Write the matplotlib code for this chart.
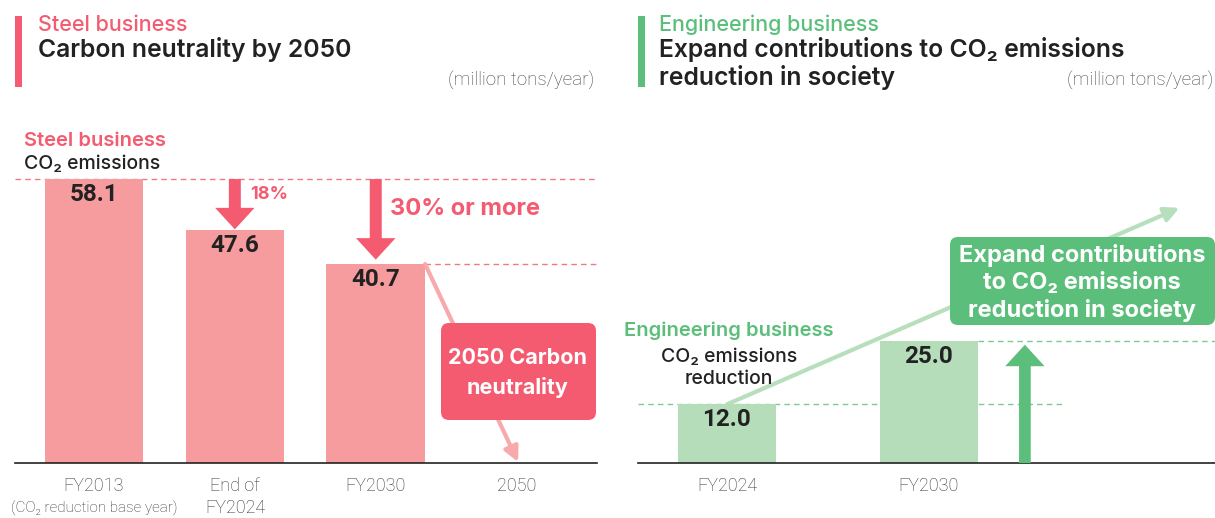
import matplotlib
matplotlib.use('Agg')
import matplotlib.pyplot as plt
from matplotlib.patches import FancyBboxPatch, FancyArrow, Rectangle

W, H = 1215, 518

# data
steel_labels = ['FY2013', 'End of\nFY2024', 'FY2030', '2050']
steel_values = [58.1, 47.6, 40.7]
steel_cuts = ['18%', '30% or more']
eng_labels = ['FY2024', 'FY2030']
eng_values = [12.0, 25.0]

PINK = '#F45B70'
PINK_BAR = '#F79C9E'
PINK_LIGHT = '#F7A9AC'
GREEN = '#5BBF7B'
GREEN_BAR = '#B5DDB9'
GREEN_LIGHT = '#B8DFBC'
DARK = '#222222'
GREY = '#333333'

TXT = ['Inter', 'DejaVu Sans']
NUM = ['Roboto', 'DejaVu Sans']
PX_PER_UNIT = 4.888

fig = plt.figure(figsize=(W / 100, H / 100), dpi=100)


def px_axes(l, r, bottom, top):
    return fig.add_axes([l / W, 1 - bottom / H, (r - l) / W, (bottom - top) / H])


def style_axes(ax):
    for s in ['top', 'left', 'right']:
        ax.spines[s].set_visible(False)
    ax.spines['bottom'].set_color('#222222')
    ax.spines['bottom'].set_linewidth(1.2)
    ax.set_yticks([])
    ax.tick_params(axis='x', length=0, pad=10)
    ax.set_ylim(0, 363 / PX_PER_UNIT)


# ---------- steel (left) ----------
ax1 = px_axes(15, 597, 463, 100)
style_axes(ax1)
ax1.set_xlim(-0.56, 3.57)
x1 = list(range(len(steel_values)))
ax1.bar(x1, steel_values, width=0.7, color=PINK_BAR, zorder=2)
ax1.set_xticks(range(len(steel_labels)))
ax1.set_xticklabels(steel_labels, family=NUM, fontweight='light', fontsize=13,
                    color=GREY, linespacing=1.3)
ax1.text(0, -0.125, '(CO\u2082 reduction base year)', transform=ax1.get_xaxis_transform(),
         ha='center', va='center', fontsize=11, family=NUM, fontweight='light', color=GREY)
for xi, v in zip(x1, steel_values):
    ax1.text(xi, v - 3.2, f'{v:.1f}', ha='center', va='center', fontsize=17.5,
             fontweight='bold', family=NUM, color=DARK, zorder=4)

ax1.plot([-0.56, 3.57], [steel_values[0]] * 2, ls=(0, (4, 3)), lw=1, color='#F07885', zorder=1)
ax1.plot([2.35, 3.57], [steel_values[2]] * 2, ls=(0, (4, 3)), lw=1, color='#F07885', zorder=1)

# reduction arrows
for xi, v, gap in [(1, steel_values[1], 0.2), (2, steel_values[2], 0.9)]:
    length = steel_values[0] - v - gap
    ax1.add_patch(FancyArrow(xi, steel_values[0], 0, -length, width=0.085,
                             head_width=0.28, head_length=4.4, length_includes_head=True,
                             color=PINK, lw=0, zorder=3))
ax1.text(1.11, 55.0, steel_cuts[0], ha='left', va='center', fontsize=13, fontweight='bold',
         family=TXT, color=PINK)
ax1.text(2.1, 52.0, steel_cuts[1], ha='left', va='center', fontsize=17, fontweight='bold',
         family=TXT, color=PINK)

# toward 2050
ax1.annotate('', xy=(3.01, 0.2), xytext=(2.35, steel_values[2]),
             arrowprops=dict(arrowstyle='-|>', color=PINK_LIGHT, lw=3, mutation_scale=22,
                             shrinkA=0, shrinkB=0), zorder=2)

# ---------- engineering (right) ----------
ax2 = px_axes(638, 1215, 463, 100)
style_axes(ax2)
ax2.set_xlim(-0.44, 2.416)
x2 = list(range(len(eng_values)))
ax2.bar(x2, eng_values, width=0.485, color=GREEN_BAR, zorder=2)
ax2.set_xticks(x2)
ax2.set_xticklabels(eng_labels, family=NUM, fontweight='light', fontsize=13, color=GREY)
for xi, v in zip(x2, eng_values):
    ax2.text(xi, v - 3.2, f'{v:.1f}', ha='center', va='center', fontsize=17.5,
             fontweight='bold', family=NUM, color=DARK, zorder=4)
ax2.plot([-0.44, 1.66], [eng_values[0]] * 2, ls=(0, (4, 3)), lw=1, color='#7CCB92', zorder=1)
ax2.plot([1.2425, 2.416], [eng_values[1]] * 2, ls=(0, (4, 3)), lw=1, color='#7CCB92', zorder=1)
ax2.add_patch(FancyArrow(1.475, 0, 0, eng_values[1] - 0.8, width=0.058, head_width=0.195,
                         head_length=4.4, length_includes_head=True, color=GREEN, lw=0,
                         zorder=3))
ax2.annotate('', xy=(2.24, 52.2), xytext=(0, eng_values[0]),
             arrowprops=dict(arrowstyle='-|>', color=GREEN_LIGHT, lw=3, mutation_scale=22,
                             shrinkA=0, shrinkB=0), zorder=1)

# ---------- overlay for headings / boxes (pixel coords) ----------
ov = fig.add_axes([0, 0, 1, 1], zorder=5)
ov.set_xlim(0, W)
ov.set_ylim(H, 0)
ov.axis('off')

ov.add_patch(Rectangle((15, 16), 7, 71, color=PINK, lw=0))
ov.text(38, 25, 'Steel business', fontsize=15.5, color=PINK, family=TXT, fontweight='medium', va='center')
ov.text(38, 50, 'Carbon neutrality by 2050', fontsize=17.8, color=DARK, family=TXT,
        fontweight='semibold', va='center')
ov.text(594, 81, '(million tons/year)', fontsize=13.5, color='#444444', family=NUM,
        fontweight='light', va='center', ha='right')
ov.text(24, 141, 'Steel business', fontsize=14.5, color=PINK, family=TXT, fontweight='semibold', va='center')
ov.text(24, 164, 'CO\u2082 emissions', fontsize=14, color=DARK, family=TXT, fontweight='medium', va='center')

ov.add_patch(FancyBboxPatch((441, 323), 155, 97, boxstyle='round,pad=0,rounding_size=8',
                            fc=PINK, ec='none'))
ov.text(518, 373, '2050 Carbon\nneutrality', ha='center', va='center', fontsize=15.5,
        color='white', fontweight='bold', family=TXT, linespacing=1.5)

ov.add_patch(Rectangle((638, 16), 7, 71, color=GREEN, lw=0))
ov.text(659, 25, 'Engineering business', fontsize=15.5, color=GREEN, family=TXT, fontweight='medium', va='center')
ov.text(659, 50, 'Expand contributions to CO\u2082 emissions', fontsize=17.8,
        color=DARK, family=TXT, fontweight='semibold', va='center')
ov.text(659, 78, 'reduction in society', fontsize=17.8,
        color=DARK, family=TXT, fontweight='semibold', va='center')
ov.text(1213, 81, '(million tons/year)', fontsize=13.5, color='#444444', family=NUM,
        fontweight='light', va='center', ha='right')

ov.add_patch(FancyBboxPatch((950, 237), 265, 88, boxstyle='round,pad=0,rounding_size=8',
                            fc=GREEN, ec='none'))
ov.text(1082, 283, 'Expand contributions\nto CO\u2082 emissions\nreduction in society', ha='center',
        va='center', fontsize=17, color='white', fontweight='bold', family=TXT, linespacing=1.28)

ov.text(729, 331, 'Engineering business', fontsize=14.5, color=GREEN, family=TXT,
        fontweight='semibold', va='center', ha='center')
ov.text(729, 368, 'CO\u2082 emissions\nreduction', fontsize=14, color=DARK, family=TXT,
        fontweight='medium', va='center', ha='center', linespacing=1.35)

fig.savefig('out.png', dpi=100)
